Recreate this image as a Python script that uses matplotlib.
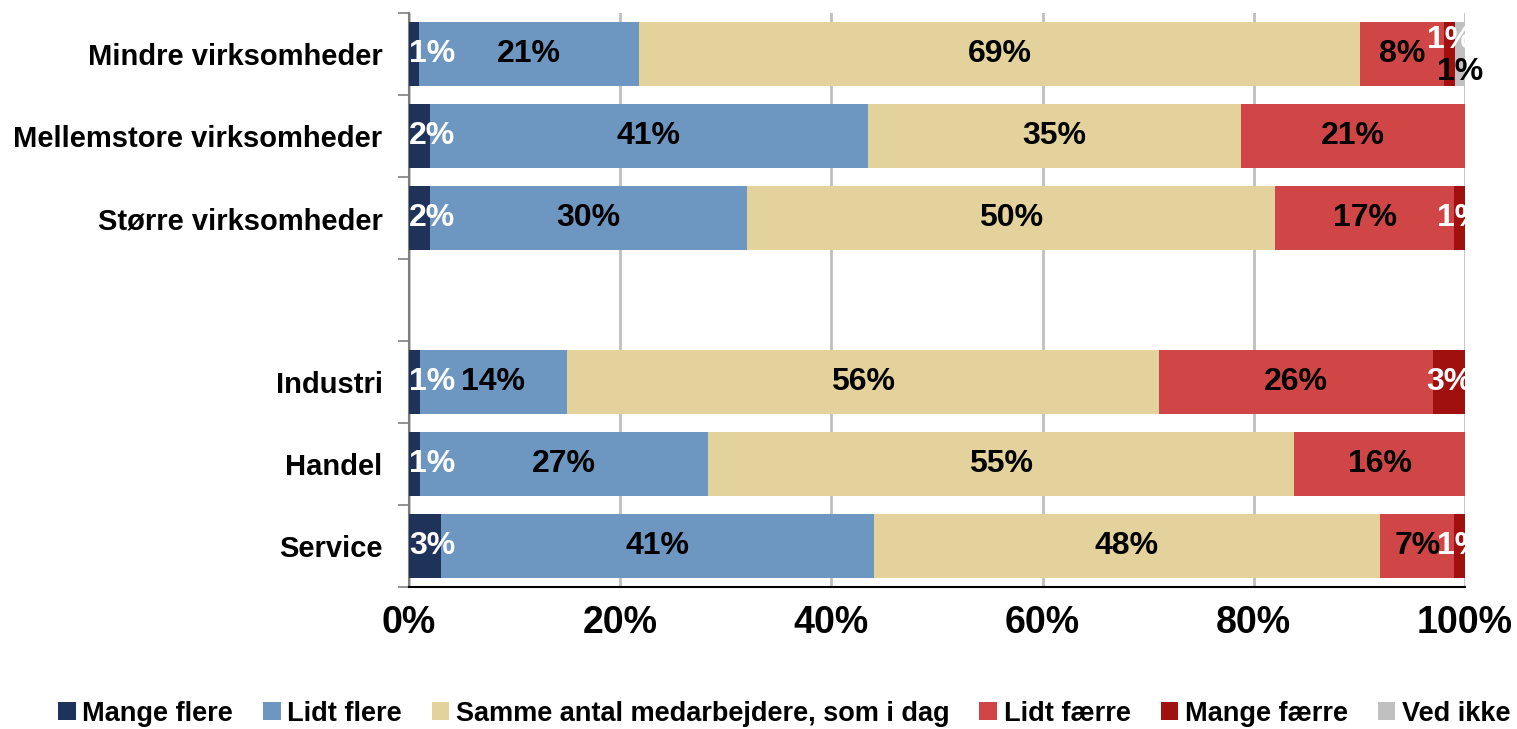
import numpy as np
import matplotlib.pyplot as plt
from matplotlib.patches import Patch

plt.rcParams['font.family'] = ['Liberation Sans', 'DejaVu Sans']
plt.rcParams['font.weight'] = 'bold'

# categories, top to bottom ("" is the empty gap row)
categories = ["Mindre virksomheder", "Mellemstore virksomheder", "Større virksomheder",
              "", "Industri", "Handel", "Service"]
series = ["Mange flere", "Lidt flere", "Samme antal medarbejdere, som i dag",
          "Lidt færre", "Mange færre", "Ved ikke"]

# shares in percent as printed (rows are rescaled to 100 %)
mange_flere = [1, 2, 2, 0, 1, 1, 3]
lidt_flere = [21, 41, 30, 0, 14, 27, 41]
samme = [69, 35, 50, 0, 56, 55, 48]
lidt_faerre = [8, 21, 17, 0, 26, 16, 7]
mange_faerre = [1, 0, 1, 0, 3, 0, 1]
ved_ikke = [1, 0, 0, 0, 0, 0, 0]

colors = ["#1F3259", "#6D96C0", "#E3D29C", "#D04545", "#A0100F", "#C0C0C0"]
text_colors = ["white", "black", "black", "black", "white", "black"]

data = np.array([mange_flere, lidt_flere, samme, lidt_faerre, mange_faerre, ved_ikke], dtype=float)
totals = data.sum(axis=0)
totals[totals == 0] = 1
shares = data / totals * 100

fig = plt.figure(figsize=(15.17, 7.29), dpi=100)
ax = fig.add_axes([0.2696, 0.195, 0.6961, 0.787])

y = np.arange(len(categories))
left = np.zeros(len(categories))
labels = []
for i, name in enumerate(series):
    ax.barh(y, shares[i], left=left, height=0.78, color=colors[i], label=name, zorder=3)
    for j in range(len(categories)):
        if data[i, j] == 0:
            continue
        cx = left[j] + shares[i, j] / 2
        cy = y[j]
        t = ax.text(cx, cy, f"{int(data[i, j])}%", ha="center", va="center",
                    color=text_colors[i], fontsize=23, fontweight="bold", zorder=5)
        labels.append((t, i, j))
    left += shares[i]

ax.set_xlim(0, 100)
ax.set_ylim(6.5, -0.5)

ax.set_xticks(np.arange(0, 101, 20))
ax.set_xticklabels([f"{v}%" for v in range(0, 101, 20)], fontsize=27, fontweight="bold")
ax.set_yticks(y)
ax.set_yticklabels(categories, fontsize=21, fontweight="bold")
ax.set_yticks(np.arange(-0.5, 7, 1), minor=True)
ax.tick_params(axis="y", which="major", length=0, pad=19)
ax.tick_params(axis="y", which="minor", length=8, width=1.2, color="#808080", direction="out")
ax.tick_params(axis="x", length=0, pad=13)

ax.grid(axis="x", color="#BEBEBE", linewidth=2, zorder=0)
for s in ["top", "right"]:
    ax.spines[s].set_visible(False)
ax.spines["left"].set_color("#808080")
ax.spines["left"].set_linewidth(1.5)
ax.spines["bottom"].set_color("black")
ax.spines["bottom"].set_linewidth(1.5)

# labels: pushed in at the left edge, clipped at the right edge (as in the original)
fig.canvas.draw()
renderer = fig.canvas.get_renderer()
inv = ax.transData.inverted()
for t, i, j in labels:
    if j == 0 and i >= 4:
        continue
    bb = t.get_window_extent(renderer)
    x0 = inv.transform((bb.x0, bb.y0))[0]
    x1 = inv.transform((bb.x1, bb.y0))[0]
    if x0 < 0:
        t.set_x(0)
        t.set_ha("left")
    elif x1 > 100:
        t.set_clip_on(True)

# the two crowded 1 % labels in the top row
for t, i, j in labels:
    if j == 0 and i == 4:
        t.set_x(98.6)
        t.set_y(y[0] - 0.17)
        t.set_clip_on(True)
    if j == 0 and i == 5:
        t.set_x(99.5)
        t.set_y(y[0] + 0.22)

handles = [Patch(facecolor=c, edgecolor="none") for c in colors]
fig.legend(handles, series, loc="center", bbox_to_anchor=(0.517, 0.021), ncol=6, frameon=False,
           prop={"size": 19.5, "weight": "bold"}, handlelength=0.65, handleheight=0.65,
           handletextpad=0.25, columnspacing=1.1)

fig.savefig("out.png", dpi=100)
